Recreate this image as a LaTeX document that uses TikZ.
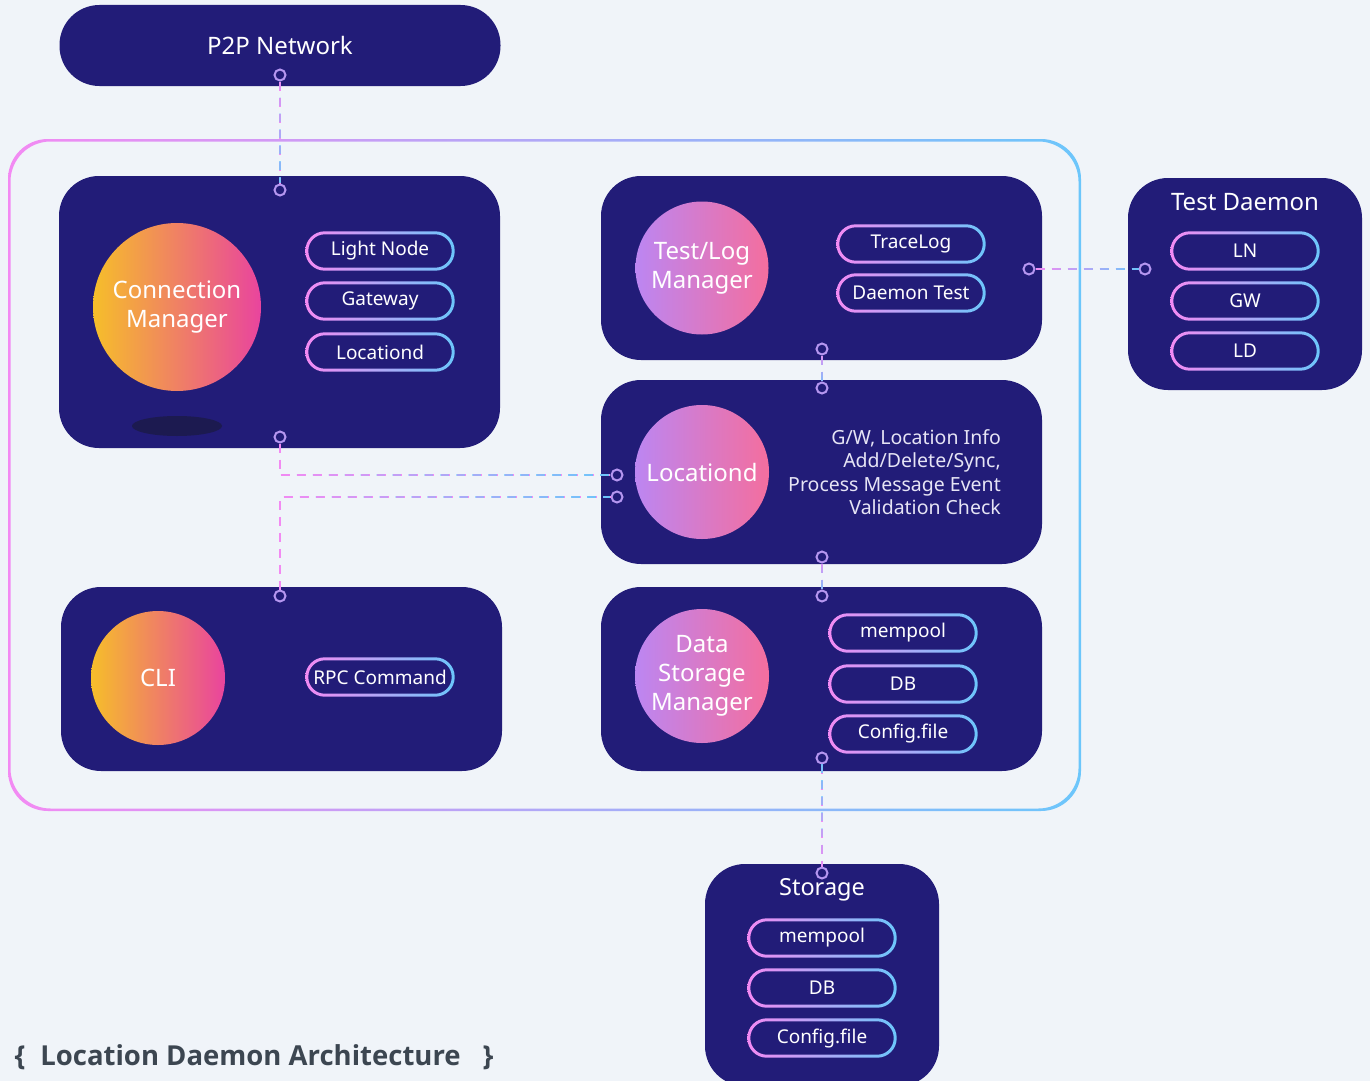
\documentclass[tikz,border=0pt]{standalone}
\usepackage{fontspec}
\setmainfont{Noto Sans}
\newfontfamily\titlefont{Open Sans}
\usetikzlibrary{fadings}

\definecolor{bgcol}{HTML}{F0F4F9}
\definecolor{boxcol}{HTML}{221C78}
\definecolor{pinkline}{HTML}{F38AF3}
\definecolor{blueline}{HTML}{6CC6FB}
\definecolor{portcol}{HTML}{B596F0}
\definecolor{orbyellow}{HTML}{F6BE2A}
\definecolor{orbpink}{HTML}{E9449E}
\definecolor{orblilac}{HTML}{BC86F2}
\definecolor{orbrose}{HTML}{F46E9E}
\definecolor{shadowcol}{HTML}{1C1A50}
\definecolor{infocol}{HTML}{E6E4F5}
\definecolor{titlecol}{HTML}{3C4651}

\tikzfading[name=fadeleft, left color=transparent!100, right color=transparent!0]
\tikzfading[name=fadeup, top color=transparent!100, bottom color=transparent!0]
\tikzfading[name=fadedown, top color=transparent!0, bottom color=transparent!100]

\tikzset{
  panel/.style={fill=boxcol, rounded corners=40pt, inner sep=0pt, text=white,
    font=\fontsize{24}{28}\selectfont},
  orb/.style={circle, inner sep=0pt, text=white, align=center,
    font=\fontsize{24}{29}\selectfont},
  warmorb/.style={orb, left color=orbyellow, right color=orbpink},
  coolorb/.style={orb, left color=orblilac, right color=orbrose},
  pilltext/.style={minimum width=146pt, minimum height=36pt, inner sep=0pt,
    text=white, font=\fontsize{19}{20}\selectfont},
  gradring/.style={left color=pinkline, right color=blueline, even odd rule},
  port/.style={circle, draw=portcol, fill=boxcol, line width=2pt,
    minimum size=11pt, inner sep=0pt},
  link/.style={dash pattern=on 9pt off 7pt, line width=2pt}
}

\newcommand\pill[3]{%
  \node[pilltext] (#1) at (#2) {#3};
  \shade[gradring]
    ([shift={(-1.5pt,-1.5pt)}]#1.south west) [rounded corners=19.5pt]
      rectangle ([shift={(1.5pt,1.5pt)}]#1.north east)
    ([shift={(1.5pt,1.5pt)}]#1.south west) [rounded corners=16.5pt]
      rectangle ([shift={(-1.5pt,-1.5pt)}]#1.north east);
}
\newcommand\gradlink[1]{%
  \draw[link, pinkline] #1;
  \draw[link, blueline, path fading=fadeleft] #1;
}
\newcommand\vgradlink[3]{%
  \draw[link, pinkline] (#1) -- (#2);
  \draw[link, blueline, path fading=#3] (#1) -- (#2)
    ([xshift=-3pt]#1.center) ([xshift=3pt]#2.center);
}

\begin{document}
\begin{tikzpicture}[x=1pt, y=-1pt]
  \useasboundingbox (0,0) rectangle (1370,1081);
  \fill[bgcol] (0,0) rectangle (1370,1081);

  \shade[gradring, rounded corners=40pt] (8,139) rectangle (1081,811)
    (10.5,141.5) rectangle (1078.5,808.5);

  \node[panel, minimum width=441pt, minimum height=81pt] (p2p) at (280,45.5) {P2P Network};
  \node[panel, minimum width=441pt, minimum height=272pt] (connbox) at (279.5,312) {};
  \node[panel, minimum width=441pt, minimum height=184pt] (testbox) at (821.5,268) {};
  \node[panel, minimum width=441pt, minimum height=184pt] (locbox) at (821.5,472) {};
  \node[panel, minimum width=441pt, minimum height=184pt] (clibox) at (281.5,679) {};
  \node[panel, minimum width=441pt, minimum height=184pt] (databox) at (821.5,679) {};
  \node[panel, minimum width=234pt, minimum height=212pt] (tdbox) at (1245,284) {};
  \node[panel, minimum width=234pt, minimum height=222pt] (storebox) at (822,975) {};

  \fill[shadowcol] (177,426) ellipse (45 and 10);
  \node[warmorb, minimum size=168pt] (connorb) at (177,307) {Connection\\Manager};
  \node[coolorb, minimum size=133pt] (testorb) at (702,268) {Test/Log\\Manager};
  \node[coolorb, minimum size=134pt] (locorb) at (702,472) {Locationd};
  \node[coolorb, minimum size=134pt] (dataorb) at (702,676) {Data\\Storage\\Manager};
  \node[warmorb, minimum size=134pt] (cliorb) at (158,678) {CLI};

  \pill{light}{380,251}{Light Node}
  \pill{gateway}{380,301}{Gateway}
  \pill{locd}{380,352}{Locationd}
  \pill{trace}{911,244}{TraceLog}
  \pill{dtest}{911,293}{Daemon Test}
  \pill{rpc}{380,677}{RPC Command}
  \pill{dmem}{903,633}{mempool}
  \pill{ddb}{903,684}{DB}
  \pill{dconf}{903,734}{Config.file}
  \pill{tln}{1245,251}{LN}
  \pill{tgw}{1245,301}{GW}
  \pill{tld}{1245,351}{LD}
  \pill{smem}{822,938}{mempool}
  \pill{sdb}{822,988}{DB}
  \pill{sconf}{822,1038}{Config.file}

  \node[text=white, font=\fontsize{24}{28}\selectfont] (tdtitle) at (1245,202) {Test Daemon};
  \node[text=white, font=\fontsize{23.5}{28}\selectfont] (storetitle) at (822,890) {Storage};
  \node[anchor=east, align=right, text=infocol, inner sep=0pt,
    font=\fontsize{19.5}{23.5}\selectfont] (locinfo) at (1001,472)
    {G/W, Location Info\\Add/Delete/Sync,\\Process Message Event\\Validation Check};

  \node[port] (p2pS) at (280,75) {};
  \node[port] (connN) at (280,190) {};
  \node[port] (connS) at (280,437) {};
  \node[port] (locW1) at (617,475) {};
  \node[port] (locW2) at (617,497) {};
  \node[port] (cliN) at (280,596) {};
  \node[port] (testS) at (822,349) {};
  \node[port] (locN) at (822,388) {};
  \node[port] (locS) at (822,557) {};
  \node[port] (dataN) at (822,596) {};
  \node[port] (testE) at (1029,269) {};
  \node[port] (tdW) at (1145,269) {};
  \node[port] (dataS) at (822,758) {};
  \node[port] (storeN) at (822,873) {};

  \vgradlink{p2pS}{connN}{fadeup}
  \gradlink{(connS) |- (locW1)}
  \gradlink{(cliN) |- (locW2)}
  \vgradlink{testS}{locN}{fadeup}
  \vgradlink{locS}{dataN}{fadeup}
  \gradlink{(testE) -- (tdW)}
  \vgradlink{dataS}{storeN}{fadedown}

  \node[anchor=west, text=titlecol, font=\titlefont\bfseries\fontsize{27.5}{30}\selectfont] (title)
    at (11,1057) {\{\hspace{15pt}Location Daemon Architecture\hspace{22pt}\}};
\end{tikzpicture}
\end{document}
